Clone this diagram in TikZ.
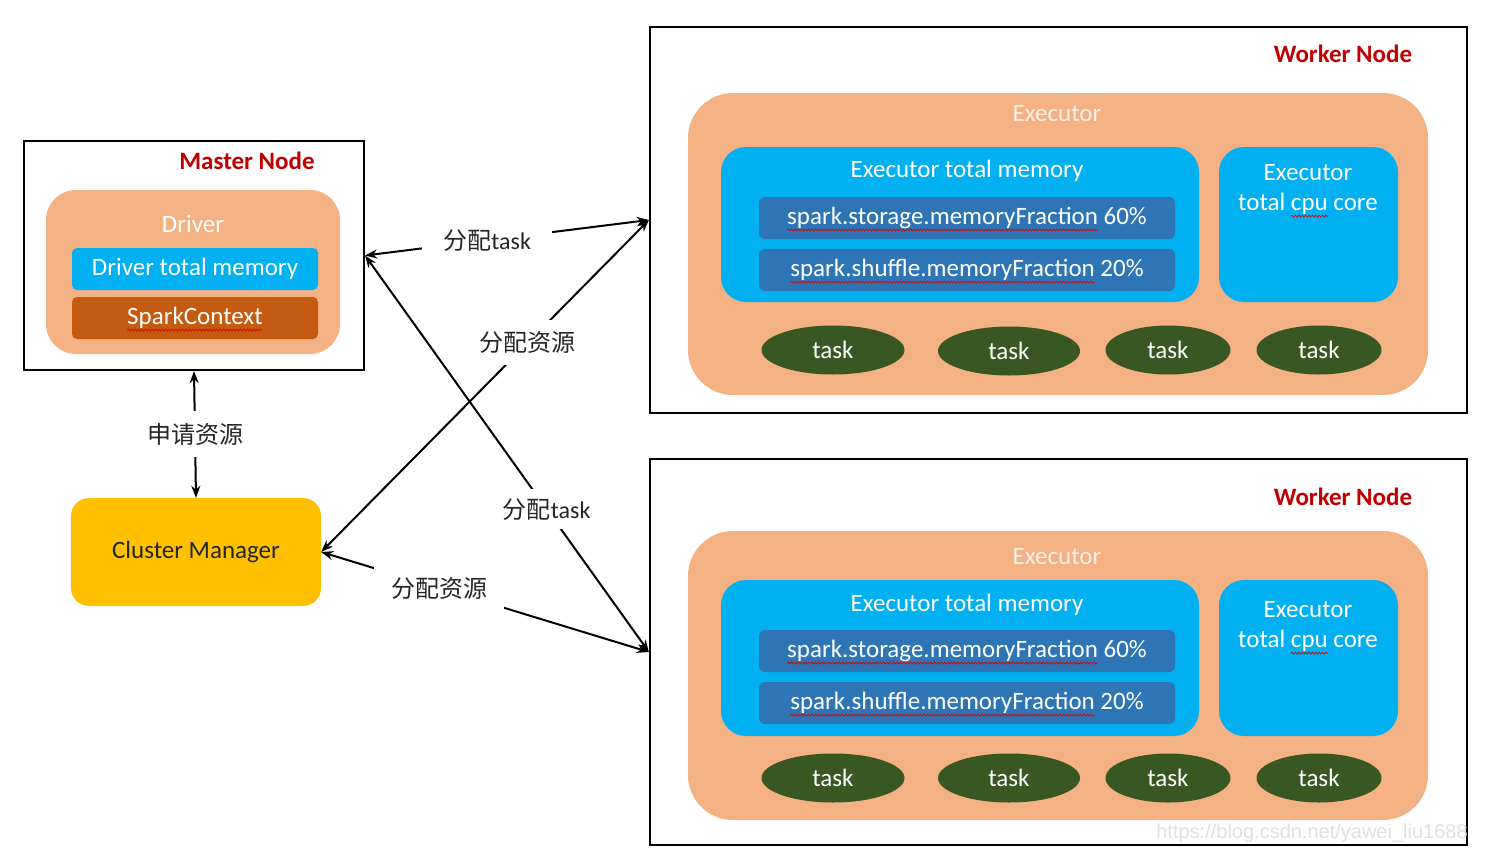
\documentclass[tikz,border=0pt]{standalone}
\usepackage{fontspec}
\setmainfont{Carlito}
\newfontfamily\cjk{Noto Sans CJK SC}
\newfontfamily\wmfont{Liberation Sans}
\usetikzlibrary{arrows.meta,shapes.geometric,decorations.pathmorphing}
\definecolor{lorange}{HTML}{F4B183}
\definecolor{cyanb}{HTML}{00B0F0}
\definecolor{sparkc}{HTML}{C55A11}
\definecolor{darkb}{HTML}{2E75B6}
\definecolor{cmy}{HTML}{FFC000}
\definecolor{taskg}{HTML}{385723}
\definecolor{redt}{HTML}{C00000}
\definecolor{exect}{HTML}{FDF0E6}
\newcommand\fs{\fontsize{25}{29}\selectfont}
\newcommand\fl{\fontsize{24}{28}\selectfont}
\newcommand\wavyline[2]{\draw[wv] ([yshift=-5.5pt]#1) -- ([yshift=-5.5pt]#2);}
\begin{document}
\begin{tikzpicture}[x=1pt,y=-1pt,
  frame/.style={draw=black, line width=2.2pt, fill=white, inner sep=0pt},
  rbox/.style={inner sep=0pt, draw=none},
  txt/.style={inner sep=0pt, outer sep=0pt, text=white, font=\fs},
  ph/.style={inner sep=0pt, outer sep=0pt, anchor=base west, font=\fs},
  ttl/.style={inner sep=0pt, text=redt, font=\fs\bfseries},
  tsk/.style={ellipse, fill=taskg, inner sep=0pt, minimum height=49pt, text=white, font=\fs},
  conn/.style={line width=2pt, {Stealth[length=12pt,width=9pt]}-{Stealth[length=12pt,width=9pt]}},
  lbl/.style={fill=white, inner sep=0pt, minimum width=130pt, minimum height=60pt, text=black!85, font=\fl},
  wv/.style={draw=red!85!black, line width=0.7pt, decorate, decoration={snake, amplitude=1pt, segment length=3.4pt}}
]
\useasboundingbox (0,0) rectangle (1493,867);

% ---------------- Master node ----------------
\node[frame, minimum width=340pt, minimum height=229pt] (master) at (194,255.5) {};
\node[ttl] (mtitle) at (247,161) {Master Node};
\node[rbox, fill=lorange, rounded corners=30pt, minimum width=294pt, minimum height=164pt] (driver) at (193,272) {};
\node[txt] (drivert) at (193,224) {Driver};
\node[rbox, fill=cyanb, rounded corners=5pt, minimum width=246pt, minimum height=42pt, txt] (dtm) at (195,269) {Driver total memory};
\node[rbox, fill=sparkc, rounded corners=5pt, minimum width=246pt, minimum height=42pt] (sc) at (195,318) {};
\node[txt] (sct) at (sc.center) {SparkContext};
\wavyline{sct.base west}{sct.base east}

% ---------------- Cluster manager ----------------
\node[rbox, fill=cmy, rounded corners=18pt, minimum width=250pt, minimum height=108pt, text=black!85, font=\fs] (cm) at (196,552) {Cluster Manager};

% ---------------- Worker node 1 ----------------
\node[frame, minimum width=817pt, minimum height=386pt] (w1) at (1058.5,220) {};
\node[ttl] (w1t) at (1343,54) {Worker Node};
\node[rbox, fill=lorange, rounded corners=45pt, minimum width=740pt, minimum height=302pt] (e1) at (1058,244) {};
\node[txt, text=exect] (e1t) at (1057,114) {Executor};
\node[rbox, fill=cyanb, rounded corners=25pt, minimum width=478pt, minimum height=155pt] (m1) at (960,224.5) {};
\node[txt] (m1t) at (967,171) {Executor total memory};
\node[rbox, fill=darkb, rounded corners=6pt, minimum width=416pt, minimum height=42pt] (s1) at (967,218) {};
\node[txt] (s1t) at (s1.center) {spark.storage.memoryFraction 60\%};
\node[ph] (s1p) at (s1t.base west) {\phantom{spark.storage.memoryFraction}};
\wavyline{s1p.base west}{s1p.base east}
\node[rbox, fill=darkb, rounded corners=6pt, minimum width=416pt, minimum height=42pt] (h1) at (967,270) {};
\node[txt] (h1t) at (h1.center) {spark.shuffle.memoryFraction 20\%};
\node[ph] (h1p) at (h1t.base west) {\phantom{spark.shuffle.memoryFraction}};
\wavyline{h1p.base west}{h1p.base east}
\node[rbox, fill=cyanb, rounded corners=25pt, minimum width=179pt, minimum height=155pt] (c1) at (1308.5,224.5) {};
\node[txt] (c1a) at (1308,173) {Executor};
\node[txt] (c1b) at (1308,204) {total cpu core};
\node[ph] (c1r) at (c1b.base west) {\phantom{total\ }};
\node[ph] (c1q) at (c1b.base west) {\phantom{total\ cpu}};
\wavyline{c1r.base east}{c1q.base east}
\node[tsk, minimum width=143pt] (t11) at (833,350) {task};
\node[tsk, minimum width=142pt] (t12) at (1009,351) {task};
\node[tsk, minimum width=125pt] (t13) at (1168,350) {task};
\node[tsk, minimum width=125pt] (t14) at (1319,350) {task};

% ---------------- Worker node 2 ----------------
\node[frame, minimum width=817pt, minimum height=386pt] (w2) at (1058.5,652) {};
\node[ttl] (w2t) at (1343,497) {Worker Node};
\node[rbox, fill=lorange, rounded corners=45pt, minimum width=740pt, minimum height=289pt] (e2) at (1058,675.5) {};
\node[txt, text=exect] (e2t) at (1057,557) {Executor};
\node[rbox, fill=cyanb, rounded corners=25pt, minimum width=478pt, minimum height=156pt] (m2) at (960,658) {};
\node[txt] (m2t) at (967,605) {Executor total memory};
\node[rbox, fill=darkb, rounded corners=6pt, minimum width=416pt, minimum height=42pt] (s2) at (967,651) {};
\node[txt] (s2t) at (s2.center) {spark.storage.memoryFraction 60\%};
\node[ph] (s2p) at (s2t.base west) {\phantom{spark.storage.memoryFraction}};
\wavyline{s2p.base west}{s2p.base east}
\node[rbox, fill=darkb, rounded corners=6pt, minimum width=416pt, minimum height=42pt] (h2) at (967,703) {};
\node[txt] (h2t) at (h2.center) {spark.shuffle.memoryFraction 20\%};
\node[ph] (h2p) at (h2t.base west) {\phantom{spark.shuffle.memoryFraction}};
\wavyline{h2p.base west}{h2p.base east}
\node[rbox, fill=cyanb, rounded corners=25pt, minimum width=179pt, minimum height=156pt] (c2) at (1308.5,658) {};
\node[txt] (c2a) at (1308,610) {Executor};
\node[txt] (c2b) at (1308,641) {total cpu core};
\node[ph] (c2r) at (c2b.base west) {\phantom{total\ }};
\node[ph] (c2q) at (c2b.base west) {\phantom{total\ cpu}};
\wavyline{c2r.base east}{c2q.base east}
\node[tsk, minimum width=143pt] (t21) at (833,778) {task};
\node[tsk, minimum width=142pt] (t22) at (1009,778) {task};
\node[tsk, minimum width=125pt] (t23) at (1168,778) {task};
\node[tsk, minimum width=125pt] (t24) at (1319,778) {task};

% watermark
\node[inner sep=0pt, text=black!12, font=\fontsize{20}{24}\selectfont\wmfont] (wm) at (1312,833) {https://blog.csdn.net/yawei\_liu1688};

% ---------------- Connectors ----------------
\draw[conn] (master.east) -- node[lbl, pos=0.43] {{\cjk 分配}task} (w1.west);
\draw[conn] (master.east) -- node[lbl, pos=0.64, minimum width=100pt, minimum height=40pt] {{\cjk 分配}task} (w2.west);
\draw[conn] (cm.east) -- node[lbl, pos=0.63, minimum width=110pt, minimum height=45pt] {\cjk 分配资源} (w1.west);
\draw[conn] (cm.east) -- node[lbl, pos=0.36, minimum height=45pt] {\cjk 分配资源} (w2.west);
\draw[conn] (master.south) -- node[lbl, pos=0.5, minimum width=110pt, minimum height=46pt] {\cjk 申请资源} (cm.north);
\end{tikzpicture}
\end{document}
